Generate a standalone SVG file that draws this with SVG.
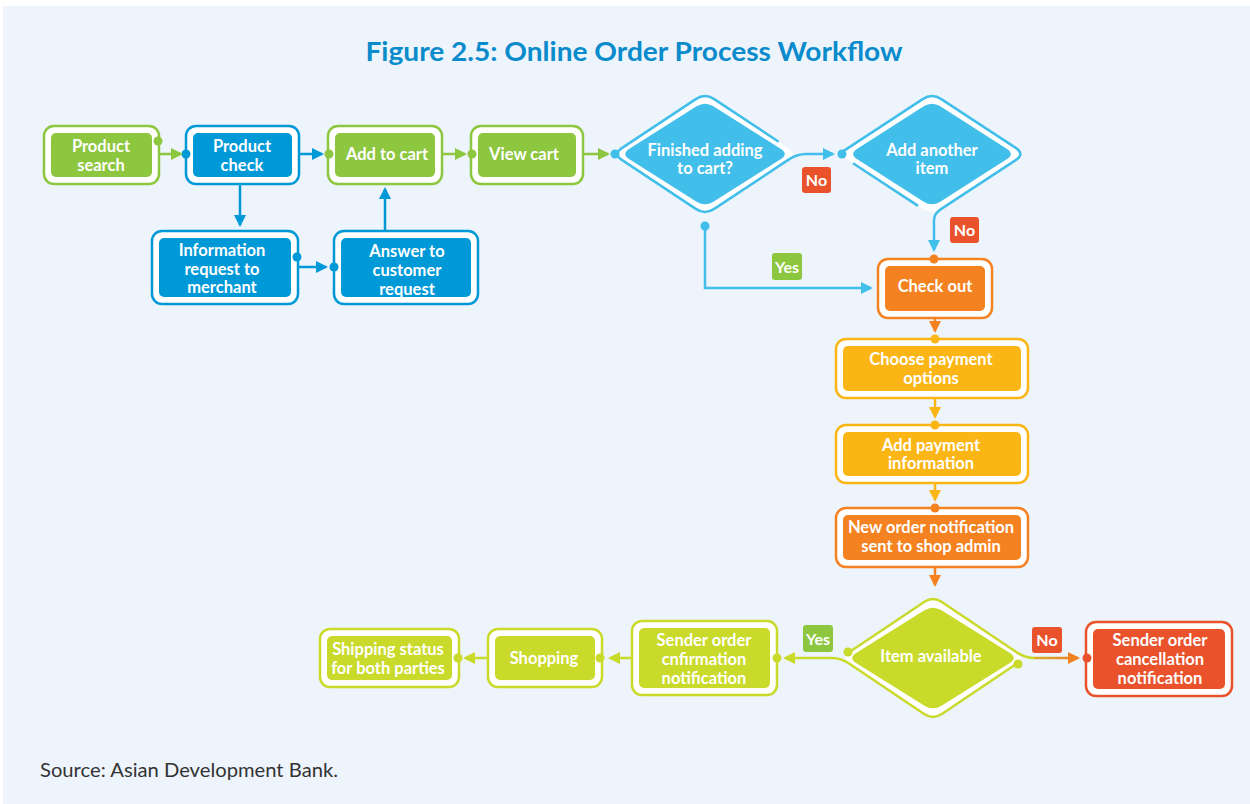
<svg xmlns="http://www.w3.org/2000/svg" width="1250" height="804" viewBox="0 0 1250 804">
<style>
.t{font-family:Lato,"Liberation Sans",sans-serif;font-weight:700;font-size:16.5px;fill:#fff;text-anchor:middle}
.b{font-family:Lato,"Liberation Sans",sans-serif;font-weight:700;font-size:16px;fill:#fff;text-anchor:middle}
.ow{fill:#fff;stroke-width:2.5}
.ln{fill:none;stroke-width:2.5}
.dg{stroke:#8DC63F}.db{stroke:#0099D8}.dl{stroke:#41BEE9}.do{stroke:#F58220}.dy{stroke:#FBB616}.dv{stroke:#C9DA2A}.dr{stroke:#E9522B}
</style>
<defs>
<marker id="mg" viewBox="0 0 12 12" refX="10" refY="6" markerWidth="12" markerHeight="12" markerUnits="userSpaceOnUse" orient="auto"><path d="M0,0 L12,6 L0,12 z" fill="#8DC63F"/></marker>
<marker id="mb" viewBox="0 0 12 12" refX="10" refY="6" markerWidth="12" markerHeight="12" markerUnits="userSpaceOnUse" orient="auto"><path d="M0,0 L12,6 L0,12 z" fill="#0099D8"/></marker>
<marker id="ml" viewBox="0 0 12 12" refX="10" refY="6" markerWidth="12" markerHeight="12" markerUnits="userSpaceOnUse" orient="auto"><path d="M0,0 L12,6 L0,12 z" fill="#41BEE9"/></marker>
<marker id="mo" viewBox="0 0 12 12" refX="10" refY="6" markerWidth="12" markerHeight="12" markerUnits="userSpaceOnUse" orient="auto"><path d="M0,0 L12,6 L0,12 z" fill="#F58220"/></marker>
<marker id="my" viewBox="0 0 12 12" refX="10" refY="6" markerWidth="12" markerHeight="12" markerUnits="userSpaceOnUse" orient="auto"><path d="M0,0 L12,6 L0,12 z" fill="#FBB616"/></marker>
<marker id="mv" viewBox="0 0 12 12" refX="10" refY="6" markerWidth="12" markerHeight="12" markerUnits="userSpaceOnUse" orient="auto"><path d="M0,0 L12,6 L0,12 z" fill="#C9DA2A"/></marker>
<linearGradient id="gno" gradientUnits="userSpaceOnUse" x1="1025" y1="0" x2="1075" y2="0"><stop offset="0" stop-color="#CFC02A"/><stop offset="1" stop-color="#F07A2A"/></linearGradient>
</defs>
<rect x="3" y="6" width="1247" height="798" fill="#EDF4FB"/>
<text x="634" y="61" font-family="Lato,'Liberation Sans',sans-serif" font-weight="700" font-size="26" fill="#0A8BCB" text-anchor="middle" textLength="537" lengthAdjust="spacingAndGlyphs">Figure 2.5: Online Order Process Workflow</text>

<g id="product-search">
<rect class="ow dg" x="44" y="126" width="115" height="58" rx="10"/>
<rect x="51" y="133" width="101" height="44" rx="5" fill="#8DC63F"/>
<text class="t" x="101" y="152">Product</text><text class="t" x="101" y="171">search</text>
<circle cx="158" cy="141" r="4.5" fill="#8DC63F"/>
</g>
<g id="product-check">
<rect class="ow db" x="186" y="126" width="113" height="58" rx="10"/>
<rect x="193" y="133" width="99" height="44" rx="5" fill="#0099D8"/>
<text class="t" x="242" y="152">Product</text><text class="t" x="242" y="171">check</text>
<circle cx="186" cy="154" r="4.5" fill="#0099D8"/>
</g>
<g id="information-request">
<rect class="ow db" x="152" y="231" width="146" height="73" rx="10"/>
<rect x="159" y="238" width="132" height="59" rx="5" fill="#0099D8"/>
<text class="t" x="222" y="256">Information</text><text class="t" x="222" y="275">request to</text><text class="t" x="222" y="293">merchant</text>
<circle cx="297" cy="257" r="4.5" fill="#0099D8"/>
</g>
<g id="answer-request">
<rect class="ow db" x="334" y="231" width="144" height="73" rx="10"/>
<rect x="341" y="238" width="130" height="59" rx="5" fill="#0099D8"/>
<text class="t" x="407" y="257">Answer to</text><text class="t" x="407" y="276">customer</text><text class="t" x="407" y="295">request</text>
<circle cx="334" cy="267" r="4.5" fill="#0099D8"/>
</g>
<g id="add-to-cart">
<rect class="ow dg" x="328" y="126" width="114" height="58" rx="10"/>
<rect x="335" y="133" width="100" height="44" rx="5" fill="#8DC63F"/>
<text class="t" x="387" y="160">Add to cart</text>
<circle cx="329" cy="154" r="4.5" fill="#8DC63F"/>
</g>
<g id="view-cart">
<rect class="ow dg" x="471" y="126" width="112" height="58" rx="10"/>
<rect x="478" y="133" width="98" height="44" rx="5" fill="#8DC63F"/>
<text class="t" x="524" y="160">View cart</text>
<circle cx="472" cy="154" r="4.5" fill="#8DC63F"/>
</g>
<g id="finished-adding">
<path fill="#fff" d="M622.2,147.9 L695.8,99.1 Q705,93 714.2,99.1 L787.8,147.9 Q797,154 787.8,160.1 L714.2,208.9 Q705,215 695.8,208.9 L622.2,160.1 Q613,154 622.2,147.9 Z"/>
<path class="ln dl" d="M778.6,141.8 L714.2,99.1 Q705,93 695.8,99.1 L622.2,147.9 Q613,154 622.2,160.1 L695.8,208.9 Q705,215 714.2,208.9 L787.8,160.1 Q797,154 806,154"/>
<path fill="#41BEE9" d="M629.4,148.7 L696.6,106.3 Q705,101 713.4,106.3 L780.6,148.7 Q789,154 780.6,159.3 L713.4,201.7 Q705,207 696.6,201.7 L629.4,159.3 Q621,154 629.4,148.7 Z"/>
<text class="t" x="705" y="156">Finished adding</text><text class="t" x="705" y="174">to cart?</text>
<circle cx="615" cy="154" r="4.5" fill="#41BEE9"/>
<circle cx="705" cy="226" r="4.5" fill="#41BEE9"/>
</g>
<g id="add-another-item">
<path fill="#fff" d="M848.3,147.9 L922.7,99.1 Q932,93 941.3,99.1 L1015.7,147.9 Q1025,154 1015.7,160.1 L941.3,208.9 Q932,215 922.7,208.9 L848.3,160.1 Q839,154 848.3,147.9 Z"/>
<path class="ln dl" d="M843,151.4 L922.7,99.1 Q932,93 941.3,99.1 L1015.7,147.9 Q1025,154 1015.7,160.1 L941.3,208.9 Q934,213.5 934,220"/>
<path class="ln dl" d="M853,163.2 L918.1,205.9"/>
<path fill="#41BEE9" d="M857.3,148.7 L923.7,106.3 Q932,101 940.3,106.3 L1006.7,148.7 Q1015,154 1006.7,159.3 L940.3,201.7 Q932,207 923.7,201.7 L857.3,159.3 Q849,154 857.3,148.7 Z"/>
<text class="t" x="932" y="156">Add another</text><text class="t" x="932" y="174">item</text>
<circle cx="842" cy="154" r="4.5" fill="#41BEE9"/>
</g>
<g id="check-out">
<rect class="ow do" x="878" y="259" width="114" height="59" rx="10"/>
<rect x="885" y="266" width="100" height="45" rx="5" fill="#F58220"/>
<text class="t" x="935" y="292">Check out</text>
<circle cx="934" cy="259" r="4.5" fill="#F58220"/>
</g>
<g id="choose-payment">
<rect class="ow dy" x="836" y="339" width="192" height="59" rx="10"/>
<rect x="843" y="346" width="178" height="45" rx="5" fill="#FBB616"/>
<text class="t" x="931" y="365">Choose payment</text><text class="t" x="931" y="384">options</text>
<circle cx="935" cy="339" r="4.5" fill="#FBB616"/>
</g>
<g id="add-payment">
<rect class="ow dy" x="836" y="425" width="192" height="58" rx="10"/>
<rect x="843" y="432" width="178" height="44" rx="5" fill="#FBB616"/>
<text class="t" x="931" y="451">Add payment</text><text class="t" x="931" y="469">information</text>
<circle cx="935" cy="425" r="4.5" fill="#FBB616"/>
</g>
<g id="new-order-notification">
<rect class="ow do" x="836" y="508" width="192" height="59" rx="10"/>
<rect x="843" y="515" width="178" height="45" rx="5" fill="#F58220"/>
<text class="t" x="931" y="533">New order notification</text><text class="t" x="931" y="552">sent to shop admin</text>
<circle cx="935" cy="508" r="4.5" fill="#F58220"/>
</g>
<g id="item-available">
<path fill="#fff" d="M850.2,651.8 L923.8,602.2 Q933,596 942.2,602.2 L1015.8,651.8 Q1025,658 1015.8,664.2 L942.2,713.8 Q933,720 923.8,713.8 L850.2,664.2 Q841,658 850.2,651.8 Z"/>
<path class="ln dv" d="M848,653 L923.8,602.2 Q933,596 942.2,602.2 L1015.8,651.8 Q1025,658 1034,658"/>
<path class="ln dv" d="M1018,662.7 L942.2,713.8 Q933,720 923.8,713.8 L850.2,664.2 Q841,658 832,658"/>
<path fill="#C9DA2A" d="M856.5,652.7 L924.5,610.3 Q933,605 941.5,610.3 L1009.5,652.7 Q1018,658 1009.5,663.3 L941.5,705.7 Q933,711 924.5,705.7 L856.5,663.3 Q848,658 856.5,652.7 Z"/>
<text class="t" x="931" y="662">Item available</text>
<circle cx="848" cy="652" r="4.5" fill="#C9DA2A"/>
<circle cx="1018" cy="664" r="4.5" fill="#C9DA2A"/>
</g>
<g id="cancellation-notification">
<rect class="ow dr" x="1086" y="622" width="146" height="74" rx="10"/>
<rect x="1093" y="629" width="132" height="60" rx="5" fill="#E9522B"/>
<text class="t" x="1160" y="646">Sender order</text><text class="t" x="1160" y="665">cancellation</text><text class="t" x="1160" y="684">notification</text>
<circle cx="1087" cy="658" r="4.5" fill="#E9522B"/>
</g>
<g id="confirmation-notification">
<rect class="ow dv" x="632" y="621" width="145" height="74" rx="10"/>
<rect x="639" y="628" width="131" height="60" rx="5" fill="#C9DA2A"/>
<text class="t" x="704" y="646">Sender order</text><text class="t" x="704" y="665">cnfirmation</text><text class="t" x="704" y="684">notification</text>
<circle cx="777" cy="658" r="4.5" fill="#C9DA2A"/>
</g>
<g id="shopping">
<rect class="ow dv" x="488" y="629" width="114" height="58" rx="10"/>
<rect x="495" y="636" width="100" height="44" rx="5" fill="#C9DA2A"/>
<text class="t" x="544" y="664">Shopping</text>
<circle cx="600" cy="658" r="4.5" fill="#C9DA2A"/>
</g>
<g id="shipping-status">
<rect class="ow dv" x="320" y="629" width="139" height="58" rx="10"/>
<rect x="327" y="636" width="125" height="44" rx="5" fill="#C9DA2A"/>
<text class="t" x="388" y="655">Shipping status</text><text class="t" x="388" y="674">for both parties</text>
<circle cx="458" cy="658" r="4.5" fill="#C9DA2A"/>
</g>

<g id="connectors">
<path class="ln dg" d="M159,154 H181" marker-end="url(#mg)"/>
<path class="ln db" d="M299,154 H322" marker-end="url(#mb)"/>
<path class="ln db" d="M240,184 V225" marker-end="url(#mb)"/>
<path class="ln db" d="M298,267 H326" marker-end="url(#mb)"/>
<path class="ln db" d="M385,231 V189" marker-end="url(#mb)"/>
<path class="ln dg" d="M442,154 H465" marker-end="url(#mg)"/>
<path class="ln dg" d="M583,154 H608" marker-end="url(#mg)"/>
<path class="ln dl" d="M806,154 H833" marker-end="url(#ml)"/>
<path class="ln dl" d="M934,220 V250" marker-end="url(#ml)"/>
<path class="ln dl" d="M705,226 V288 H871" marker-end="url(#ml)"/>
<path class="ln do" d="M935,318 V331" marker-end="url(#mo)"/>
<path class="ln dy" d="M935,398 V417" marker-end="url(#my)"/>
<path class="ln dy" d="M935,483 V500" marker-end="url(#my)"/>
<path class="ln do" d="M935,567 V585" marker-end="url(#mo)"/>
<path class="ln dv" d="M832,658 H785" marker-end="url(#mv)"/>
<path class="ln" stroke="url(#gno)" d="M1034,658 H1078" marker-end="url(#mo)"/>
<path class="ln dv" d="M632,658 H610" marker-end="url(#mv)"/>
<path class="ln dv" d="M488,658 H465" marker-end="url(#mv)"/>
</g>

<g id="labels">
<rect x="802" y="167" width="29" height="26" rx="3" fill="#E9522B"/><text class="b" x="816.5" y="186">No</text>
<rect x="950" y="217" width="29" height="26" rx="3" fill="#E9522B"/><text class="b" x="964.5" y="236">No</text>
<rect x="772" y="253" width="30" height="27" rx="3" fill="#8DC63F"/><text class="b" x="787" y="272.5">Yes</text>
<rect x="803" y="625" width="30" height="27" rx="3" fill="#8DC63F"/><text class="b" x="818" y="644.5">Yes</text>
<rect x="1032" y="627" width="30" height="26" rx="3" fill="#E9522B"/><text class="b" x="1047" y="646">No</text>
</g>
<text x="40" y="777" font-family="Lato,'Liberation Sans',sans-serif" font-size="19" fill="#333" textLength="298" lengthAdjust="spacingAndGlyphs">Source: Asian Development Bank.</text>
</svg>
